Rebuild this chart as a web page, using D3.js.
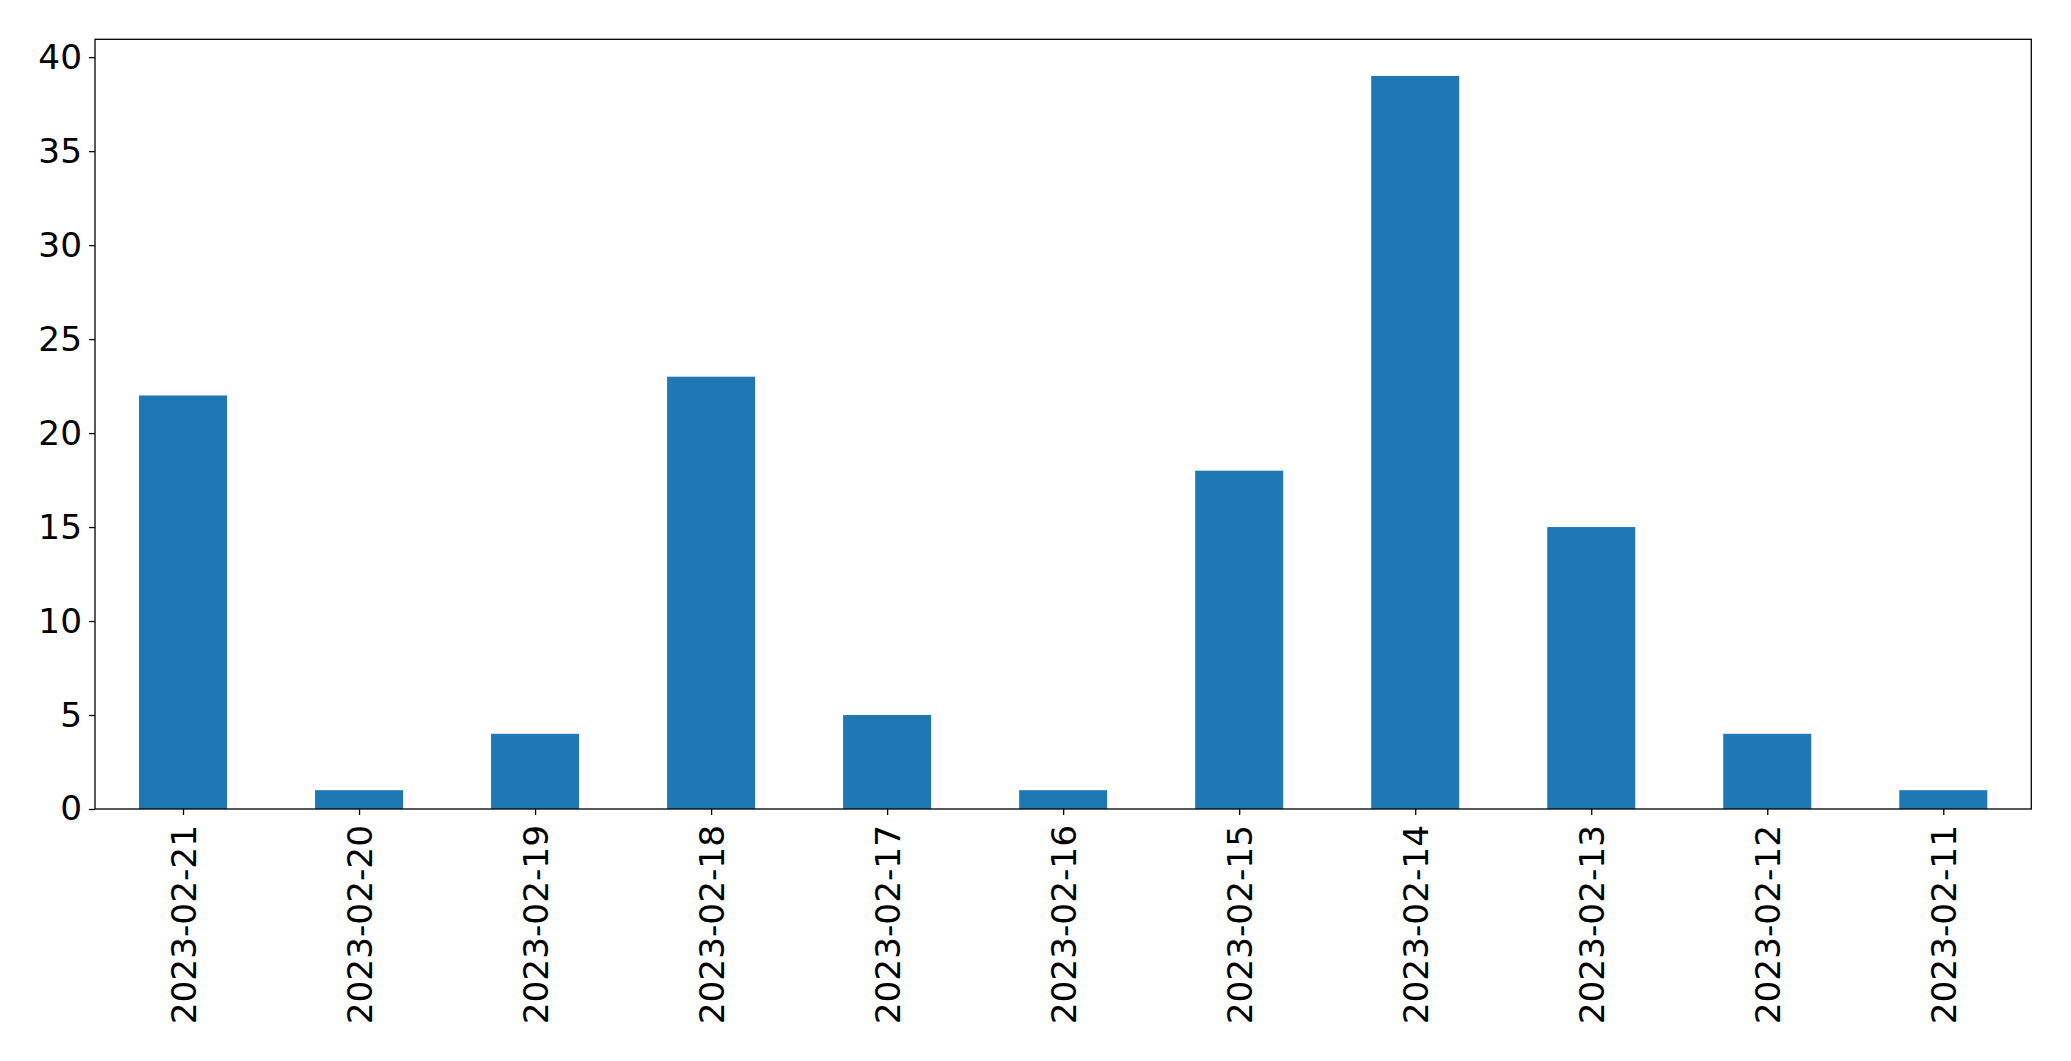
<!DOCTYPE html>
<html><head><meta charset="utf-8">
<script src="https://cdn.jsdelivr.net/npm/d3@7"></script>
<style>body{margin:0;background:#fff}svg{display:block}text{font-family:"DejaVu Sans",sans-serif}</style>
</head><body>
<script>
const categories = ["2023-02-21","2023-02-20","2023-02-19","2023-02-18","2023-02-17","2023-02-16","2023-02-15","2023-02-14","2023-02-13","2023-02-12","2023-02-11"];
const values = [22,1,4,23,5,1,18,39,15,4,1];
const yTicks = [0,5,10,15,20,25,30,35,40];

const W = 2071, H = 1061;
const m = {left:95, right:2071-2031.3, top:39.3, bottom:1061-809};
const svg = d3.select("body").append("svg").attr("width",W).attr("height",H);
const iw = W - m.left - m.right, ih = H - m.top - m.bottom;
const g = svg.append("g").attr("transform",`translate(${m.left},${m.top})`);

const x = d3.scaleLinear().domain([-0.5, categories.length-0.5]).range([0, iw]);
const y = d3.scaleLinear().domain([0, d3.max(values)*1.05]).range([ih, 0]);

g.selectAll("rect.bar").data(values).join("rect").attr("class","bar")
  .attr("x",(d,i)=>x(i-0.25)).attr("width",x(0.25)-x(-0.25))
  .attr("y",d=>y(d)).attr("height",d=>y(0)-y(d)).attr("fill","#1f77b4");

const fs = 34.3;
const yAxis = g.append("g").call(d3.axisLeft(y).tickValues(yTicks).tickSize(6).tickPadding(7).tickFormat(d3.format("d")));
yAxis.select(".domain").remove();
yAxis.selectAll("text").style("font-size",fs+"px").attr("fill","#000");
yAxis.selectAll("line").attr("stroke","#000").attr("stroke-width",1.3);

const xAxis = g.append("g").attr("transform",`translate(0,${ih})`)
  .call(d3.axisBottom(x).tickValues(d3.range(categories.length)).tickSize(6).tickFormat(i=>categories[i]));
xAxis.select(".domain").remove();
xAxis.selectAll("line").attr("stroke","#000").attr("stroke-width",1.3);
xAxis.selectAll("text").style("font-size",fs+"px").attr("fill","#000")
  .attr("transform","rotate(-90)").attr("text-anchor","end")
  .attr("x",-16).attr("y",0).attr("dy","0.35em");

g.append("rect").attr("x",0).attr("y",0).attr("width",iw).attr("height",ih)
  .attr("fill","none").attr("stroke","#000").attr("stroke-width",1.3);
</script>
</body></html>
